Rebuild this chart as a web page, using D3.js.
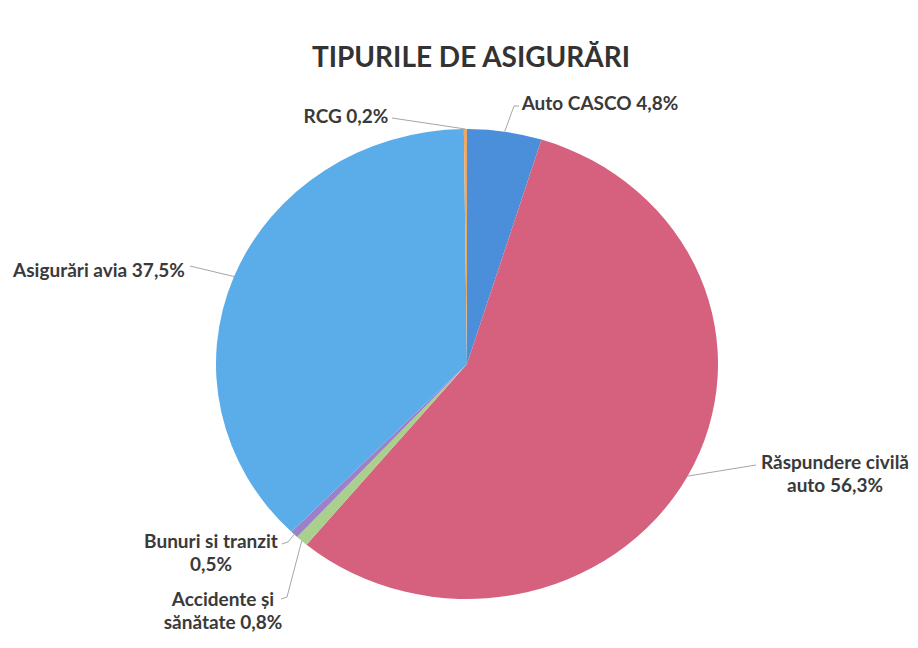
<!DOCTYPE html>
<html><head><meta charset="utf-8">
<script src="https://cdn.jsdelivr.net/npm/d3@7"></script>
<style>body{margin:0;background:#fff;} text{font-family:Lato,"Open Sans",sans-serif;}</style>
</head><body>
<svg id="c" width="918" height="648"></svg>
<script>
const categories = ["Auto CASCO","Răspundere civilă auto","Accidente și sănătate","Bunuri si tranzit","Asigurări avia","RCG"];
const values = [4.8,56.3,0.8,0.5,37.5,0.2];
const valueLabels = ["4,8%","56,3%","0,8%","0,5%","37,5%","0,2%"];
const colors = ["#4b8fdb","#d6617e","#a9d08c","#9c80c8","#5badea","#f0a860"];
const title = "TIPURILE DE ASIGURĂRI";

const svg = d3.select("#c");
const cx = 467, cy = 364, rx = 251, ry = 235;
svg.append("text").attr("x",cx+4).attr("y",67).attr("text-anchor","middle")
  .attr("font-size",28).attr("font-weight","bold").attr("fill","#333").text(title);

const pie = d3.pie().sort(null).value(d=>d)(values);
const arc = d3.arc().innerRadius(0).outerRadius(rx);
const g = svg.append("g").attr("transform",`translate(${cx},${cy}) scale(1,${ry/rx})`);
g.selectAll("path").data(pie).join("path").attr("d",arc).attr("fill",(d,i)=>colors[i]);

function edge(i, f){ const d=pie[i]; const a=d.startAngle+(d.endAngle-d.startAngle)*(f===undefined?0.5:f);
  return [cx+rx*Math.sin(a), cy-ry*Math.cos(a)]; }

const labels = [
  {i:0, lines:[categories[0]+" "+valueLabels[0]], x:600, y:110, lead:[[519,106],[514,106]]},
  {i:1, lines:["Răspundere civilă","auto "+valueLabels[1]], x:835, y:469, lead:[[756,465]]},
  {i:2, lines:["Accidente și","sănătate "+valueLabels[2]], x:223, y:606, lead:[[281,599],[287,597]]},
  {i:3, lines:["Bunuri si tranzit",valueLabels[3]], x:211, y:548, lead:[[282,544],[288,542]]},
  {i:4, lines:[categories[4]+" "+valueLabels[4]], x:99, y:277, lead:[[190,266]]},
  {i:5, lines:[categories[5]+" "+valueLabels[5]], x:346, y:123, lead:[[392,118]]}
];
labels.forEach(l=>{
  const e = edge(l.i);
  const pts = l.lead.concat([e]);
  svg.append("path").attr("d",d3.line()(pts)).attr("fill","none").attr("stroke","#a6a6a6").attr("stroke-width",1);
  const t = svg.append("text").attr("text-anchor","middle").attr("font-size",19).attr("font-weight","bold").attr("fill","#3a3a3a");
  l.lines.forEach((s,k)=>t.append("tspan").attr("x",l.x).attr("y",l.y+k*22.5).text(s));
});
</script>
</body></html>
